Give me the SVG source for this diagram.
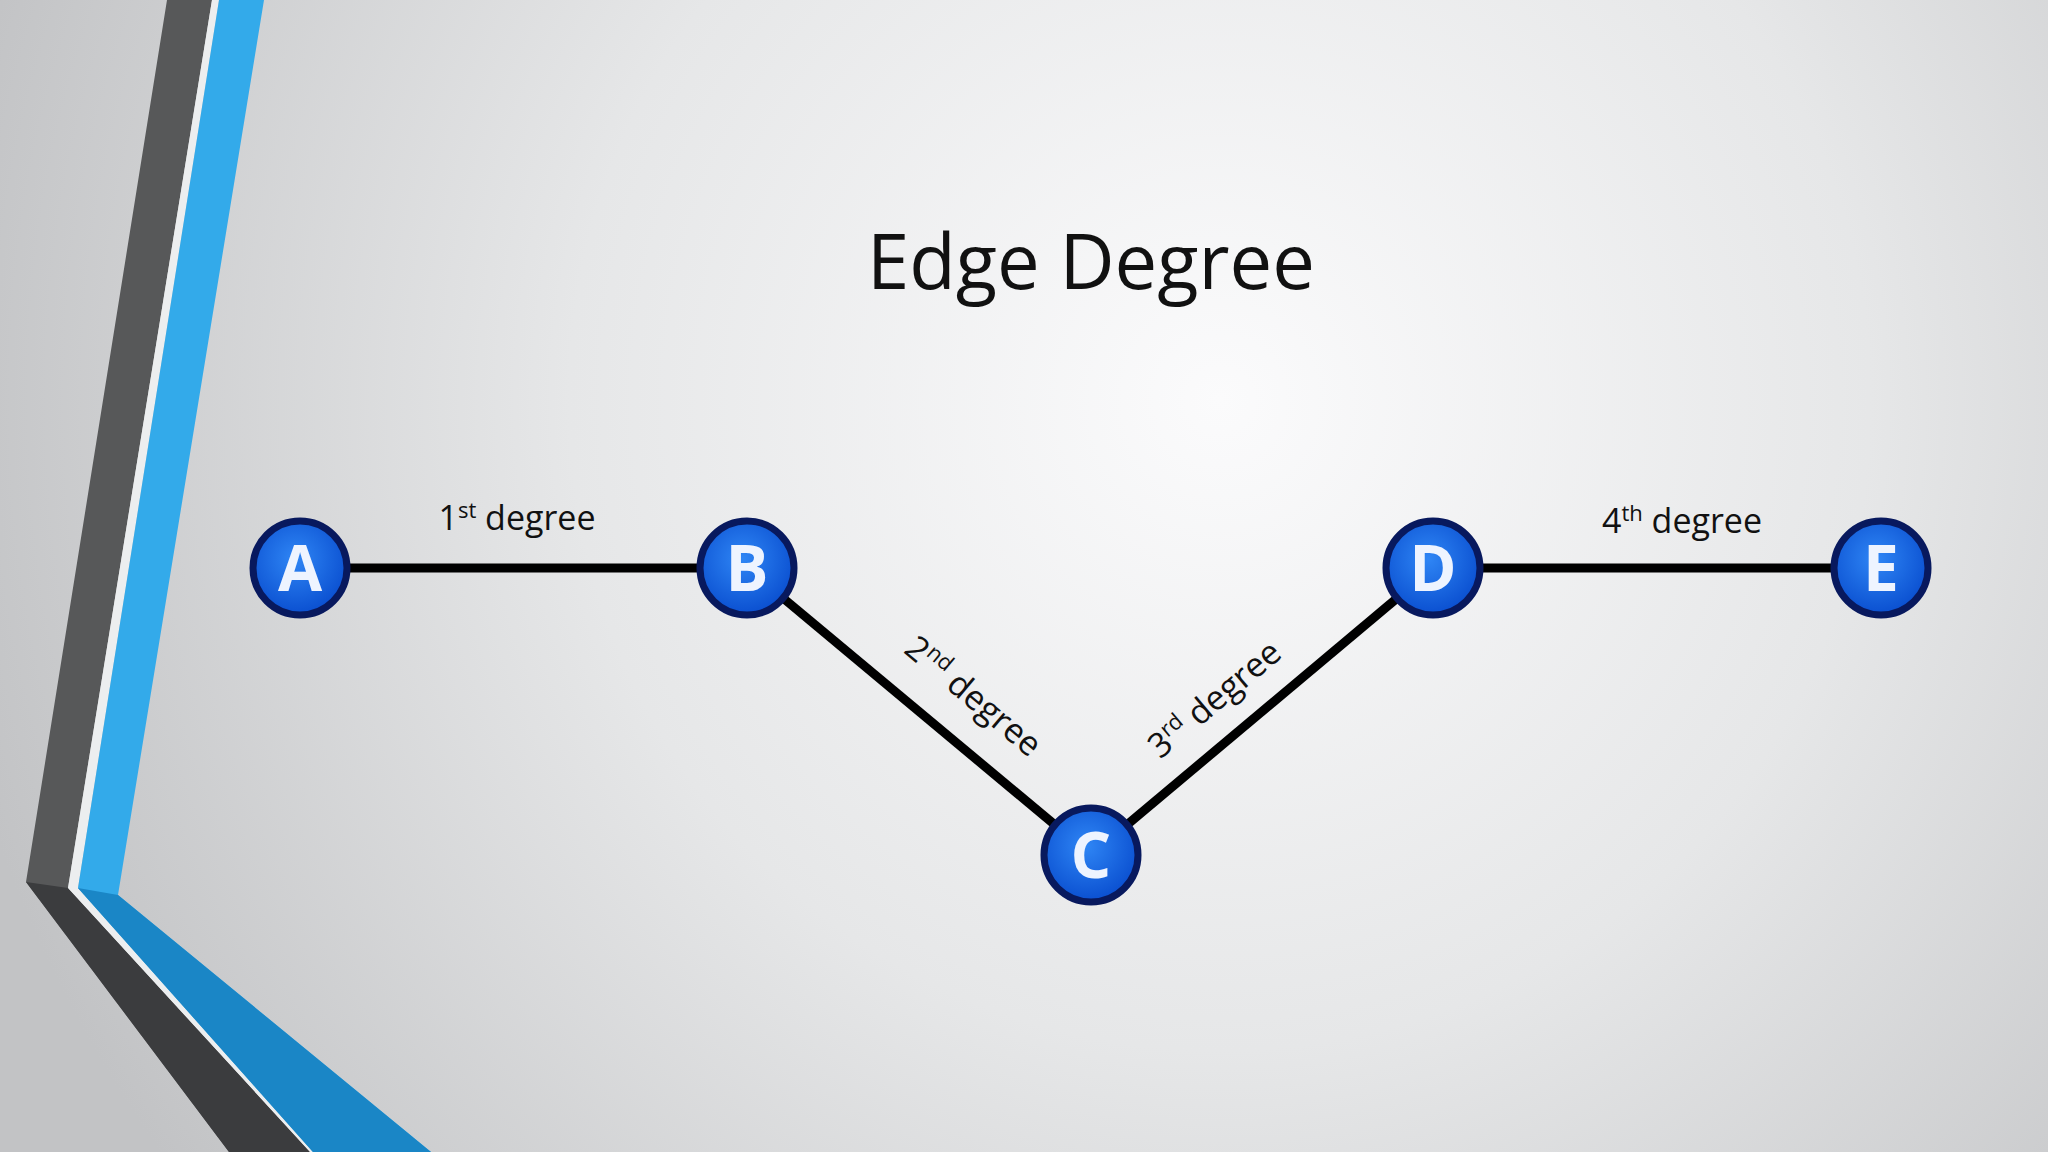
<svg xmlns="http://www.w3.org/2000/svg" width="2048" height="1152" viewBox="0 0 2048 1152">
<defs>
<radialGradient id="bg" cx="1220" cy="400" r="1300" gradientUnits="userSpaceOnUse">
<stop offset="0" stop-color="#fbfbfc"/><stop offset="0.5" stop-color="#e6e7e8"/><stop offset="1" stop-color="#c2c3c5"/>
</radialGradient>
<radialGradient id="nd" cx="0.45" cy="0.4" r="0.6">
<stop offset="0" stop-color="#2f86f5"/><stop offset="1" stop-color="#0a4fd0"/>
</radialGradient>
<style>
.edge{stroke:#000;stroke-width:9;fill:none}
.ring{fill:url(#nd);stroke:#08195e;stroke-width:7}
.let{font-family:"Open Sans","Liberation Sans",sans-serif;font-weight:bold;font-size:64px;fill:#eef4ff;text-anchor:middle}
.lbl{font-family:"Open Sans","Liberation Sans",sans-serif;font-size:34px;fill:#111;text-anchor:middle}
</style>
</defs>
<rect width="2048" height="1152" fill="url(#bg)"/>
<polygon points="167,0 212,0 68,888 310,1152 229,1152 26,882" fill="#575859"/>
<polygon points="26,882 68,888 310,1152 229,1152" fill="#3b3c3e"/>
<polygon points="212,0 219,0 78,888 313,1152 310,1152 68,888" fill="#eceeef"/>
<polygon points="219,0 264,0 118,895 431,1152 313,1152 78,888" fill="#33aaea"/>
<polygon points="78,888 118,895 431,1152 313,1152" fill="#1a86c6"/>
<text x="1091" y="289" font-family="Open Sans,Liberation Sans,sans-serif" font-size="76" fill="#111" text-anchor="middle">Edge Degree</text>
<g id="connectors">
<line class="edge" x1="300" y1="568" x2="747" y2="568"/>
<line class="edge" x1="747" y1="568" x2="1091" y2="855"/>
<line class="edge" x1="1091" y1="855" x2="1433" y2="568"/>
<line class="edge" x1="1433" y1="568" x2="1881" y2="568"/>
<text class="lbl" x="517" y="530">1<tspan font-size="22" dy="-12">st</tspan><tspan dy="12"> degree</tspan></text>
<text class="lbl" x="1682" y="533">4<tspan font-size="22" dy="-12">th</tspan><tspan dy="12"> degree</tspan></text>
<text class="lbl" transform="translate(966,705) rotate(40)">2<tspan font-size="22" dy="-12">nd</tspan><tspan dy="12"> degree</tspan></text>
<text class="lbl" transform="translate(1222,708) rotate(-40)">3<tspan font-size="22" dy="-12">rd</tspan><tspan dy="12"> degree</tspan></text>
</g>
<g id="A"><circle class="ring" cx="300" cy="568" r="47"/><text class="let" x="300" y="591">A</text></g>
<g id="B"><circle class="ring" cx="747" cy="568" r="47"/><text class="let" x="747" y="591">B</text></g>
<g id="C"><circle class="ring" cx="1091" cy="855" r="47"/><text class="let" x="1091" y="878">C</text></g>
<g id="D"><circle class="ring" cx="1433" cy="568" r="47"/><text class="let" x="1433" y="591">D</text></g>
<g id="E"><circle class="ring" cx="1881" cy="568" r="47"/><text class="let" x="1881" y="591">E</text></g>
</svg>
